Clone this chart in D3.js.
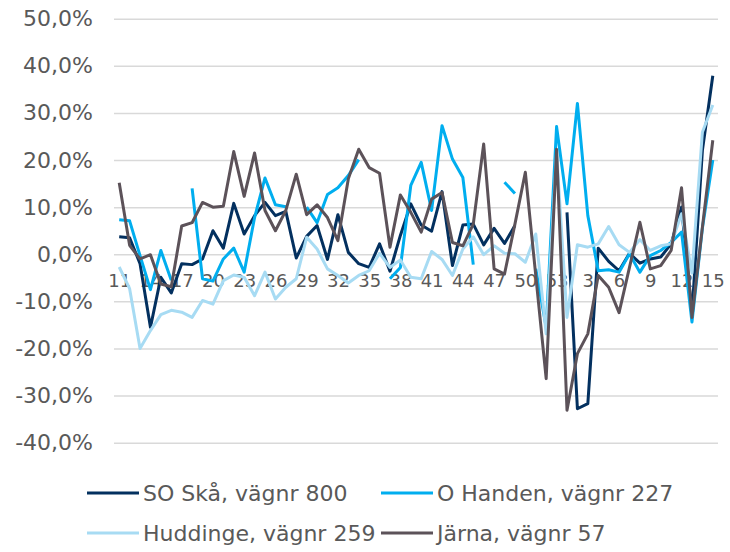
<!DOCTYPE html>
<html>
<head>
<meta charset="utf-8">
<script src="https://cdn.jsdelivr.net/npm/d3@7"></script>
<style>
  body { margin: 0; background: #fff; }
  text { font-family: "DejaVu Sans", Verdana, sans-serif; fill: #595959; }
</style>
</head>
<body>
<div id="chart"></div>
<script>
// weeks: 11..53 then 1..15
var weeks = [11, 12, 13, 14, 15, 16, 17, 18, 19, 20, 21, 22, 23, 24, 25, 26, 27, 28, 29, 30,
    31, 32, 33, 34, 35, 36, 37, 38, 39, 40, 41, 42, 43, 44, 45, 46, 47, 48, 49, 50,
    51, 52, 53, 1, 2, 3, 4, 5, 6, 7, 8, 9, 10, 11, 12, 13, 14, 15];

var yTicks = [-40, -30, -20, -10, 0, 10, 20, 30, 40, 50];

var soSka = [3.7, 3.5, -2.0, -15.5, -4.9, -8.2, -2.0, -2.2, -1.0, 5.0, 1.3, 10.8, 4.3, 8.2, 11.0,
    8.2, 9.1, -0.8, 3.8, 6.1, -1.1, 8.4, 0.4, -2.0, -2.8, 2.2, -3.6, 4.0, 10.7, 6.2,
    4.9, 13.3, -2.4, 6.2, 6.4, 2.0, 5.5, 2.3, 6.1, null, null, null, null, 8.9, -32.8,
    -31.7, 1.3, -1.5, -3.5, 0.2, -1.9, -1.0, -0.6, 2.2, 10.0, -12.6, 22.0, 37.9];

var oHanden = [7.3, 7.1, -0.3, -7.5, 0.8, -5.5, null, 14.0, -5.2, -5.7, -1.0, 1.3, -3.8, 7.8, 16.2,
    10.5, 10.1, null, 10.0, 6.7, 12.7, 14.1, 16.7, 20.1, null, null, -5.2, -2.8, 14.6, 19.5,
    9.3, 27.3, 20.2, 16.3, -2.2, null, null, 15.3, 12.9, null, -3.1, -15.5, 27.1, 10.7, 32.0,
    8.2, -3.5, -3.3, -3.8, 0.1, -3.8, -0.3, 0.8, 2.5, 4.7, -14.4, 5.5, 20.0];

var huddinge = [-2.7, -7.3, -20.0, -16.2, -12.8, -11.9, -12.3, -13.4, -9.8, -10.6, -5.6, -4.4, -4.9, -8.8, -3.8,
    -9.5, -7.0, -5.2, 3.6, 1.1, -3.1, -4.5, -6.1, -4.5, -3.5, 0.2, -2.8, -1.2, -4.9, -5.2,
    0.6, -1.1, -4.5, 1.1, 3.7, -0.1, 1.8, 0.2, 0.1, -1.7, 4.3, -16.9, 21.6, -13.4, 2.0,
    1.5, 2.2, 5.9, 2.0, 0.4, 3.1, 0.8, 1.8, 2.2, 8.6, -4.0, 25.9, 31.7];

var jarna = [15.2, 1.9, -1.0, -0.1, -6.3, -6.9, 6.0, 6.7, 11.0, 10.0, 10.2, 21.8, 12.3, 21.5, 9.3,
    5.0, 9.3, 17.0, 8.4, 10.5, 7.8, 2.9, 16.0, 22.3, 18.4, 17.2, 1.5, 12.6, 8.9, 4.7,
    11.7, 13.1, 2.5, 1.8, 6.4, 23.4, -3.1, -4.2, 6.4, 17.4, -4.5, -26.4, 22.3, -33.1, -21.1,
    -16.9, -4.5, -7.0, -12.4, -2.8, 6.8, -3.1, -2.4, 0.8, 14.1, -13.4, 5.7, 24.2];

var names = ["SO Skå, vägnr 800", "O Handen, vägnr 227", "Huddinge, vägnr 259", "Järna, vägnr 57"];
var colors = ["#03305f", "#00aeef", "#a7dbf3", "#5c5259"];
var series = [soSka, oHanden, huddinge, jarna].map(function (v, i) {
    return { name: names[i], color: colors[i], values: v };
});

var width = 730, height = 552;
var plot = { left: 114, right: 718, top: 18.7, bottom: 442.7 };

var svg = d3.select("#chart")
    .append("svg")
    .attr("width", width)
    .attr("height", height);

var idx = d3.range(weeks.length);

// x: one point per week, centred in its slot
var x = d3.scalePoint()
    .domain(idx)
    .range([plot.left, plot.right])
    .padding(0.5);

var y = d3.scaleLinear()
    .domain([-40, 50])
    .range([plot.bottom, plot.top]);

var sv = d3.formatLocale({ decimal: ",", thousands: " ", grouping: [3], currency: ["", " kr"], minus: "-" });
var pct = sv.format(".1f");

// Y axis + gridlines
var yAxis = svg.append("g")
    .attr("transform", "translate(" + plot.left + ",0)")
    .call(d3.axisLeft(y)
        .tickValues(yTicks)
        .tickSizeInner(-(plot.right - plot.left))
        .tickSizeOuter(0)
        .tickPadding(21)
        .tickFormat(function (d) { return pct(d) + "%"; }));
yAxis.select(".domain").remove();
yAxis.selectAll("line").attr("stroke", "#d9d9d9").attr("stroke-width", 1.5);
yAxis.selectAll("text").style("font-size", "22px").attr("fill", "#595959");

// X axis labels sit at the 0% line
var xAxis = svg.append("g")
    .attr("transform", "translate(0," + y(0) + ")")
    .call(d3.axisBottom(x)
        .tickValues(idx.filter(function (i) { return i % 3 === 0; }))
        .tickSize(0)
        .tickPadding(19.7)
        .tickFormat(function (i) { return weeks[i]; }));
xAxis.select(".domain").remove();
xAxis.selectAll("text").style("font-size", "18px").attr("fill", "#595959");

// Lines
var line = d3.line()
    .defined(function (d) { return d != null; })
    .x(function (d, i) { return x(i); })
    .y(function (d) { return y(d); });

svg.append("g")
    .selectAll("path")
    .data(series)
    .enter()
    .append("path")
    .attr("fill", "none")
    .attr("stroke", function (d) { return d.color; })
    .attr("stroke-width", 3)
    .attr("stroke-linejoin", "round")
    .attr("d", function (d) { return line(d.values); });

// Legend, two rows of two
var legend = svg.append("g")
    .selectAll("g")
    .data(series)
    .enter()
    .append("g")
    .attr("transform", function (d, i) {
        return "translate(" + (i % 2 === 0 ? 87 : 381) + "," + (i < 2 ? 493 : 533) + ")";
    });

legend.append("line")
    .attr("x1", 0)
    .attr("x2", 52)
    .attr("stroke", function (d) { return d.color; })
    .attr("stroke-width", 3);

legend.append("text")
    .attr("x", 56)
    .attr("dy", "0.36em")
    .style("font-size", "22px")
    .text(function (d) { return d.name; });
</script>
</body>
</html>
